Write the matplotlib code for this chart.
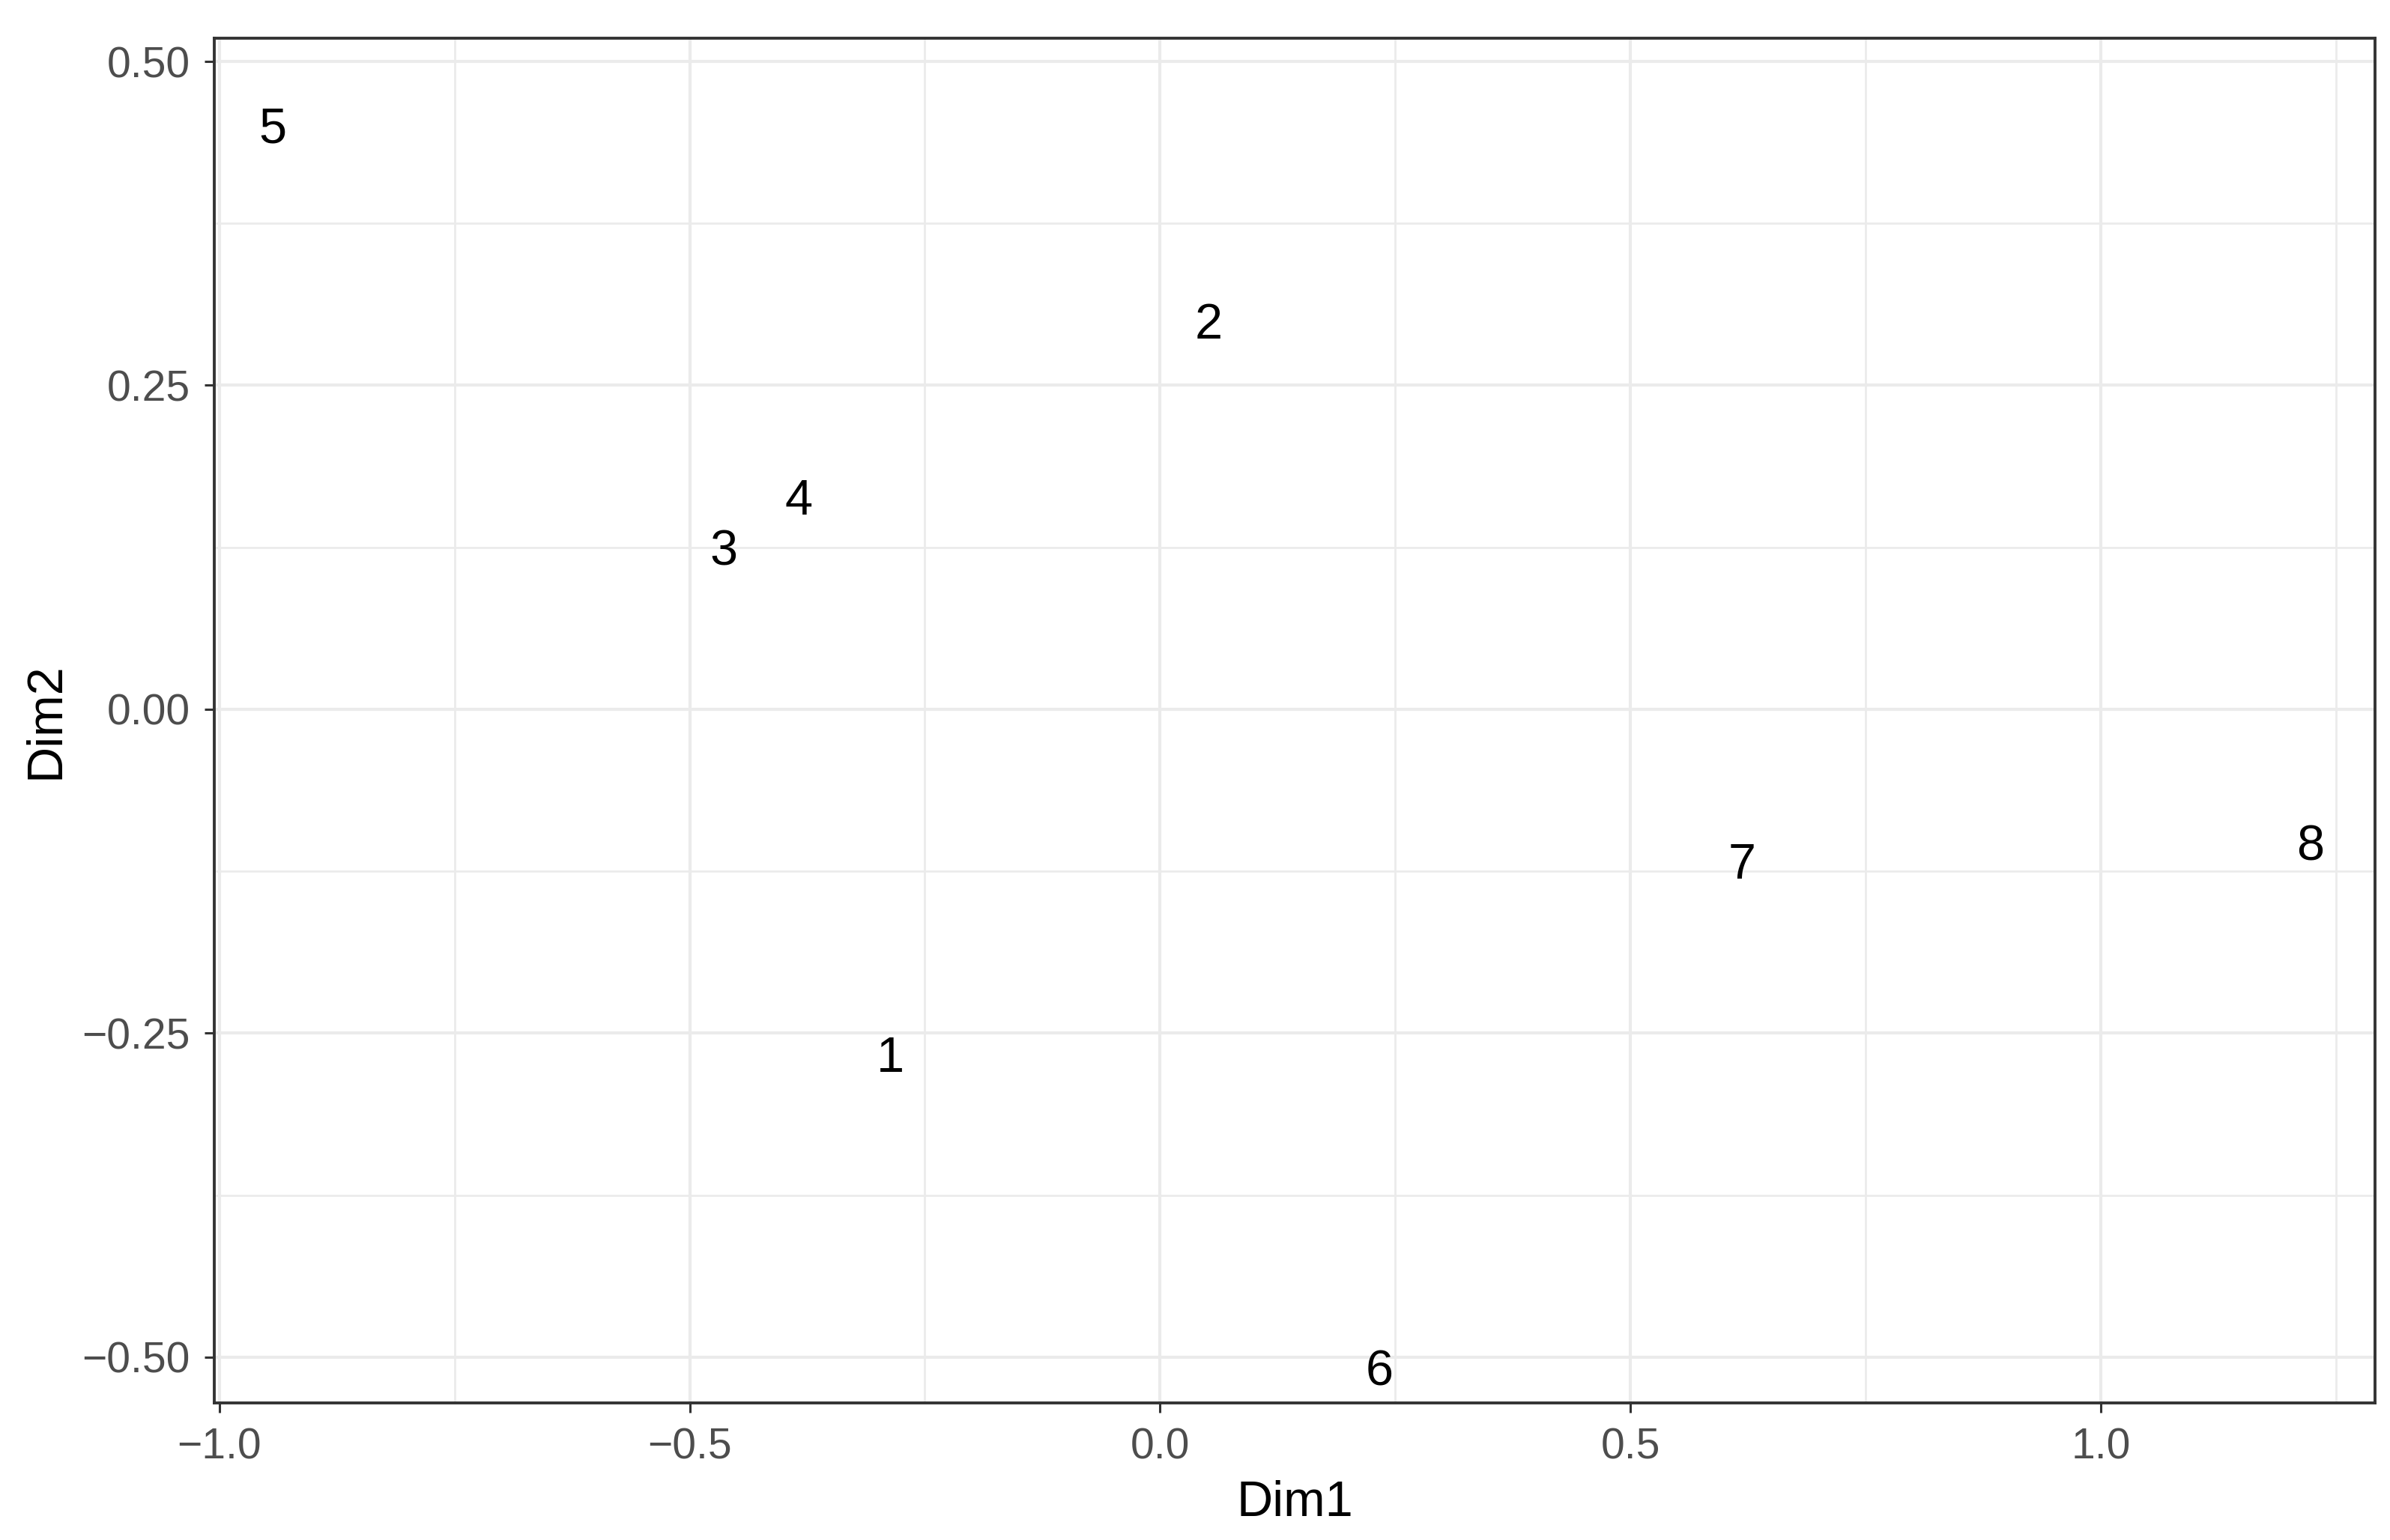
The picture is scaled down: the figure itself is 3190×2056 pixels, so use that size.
import matplotlib.pyplot as plt
from matplotlib.ticker import MultipleLocator

# MDS coordinates
labels = ['1', '2', '3', '4', '5', '6', '7', '8']
dim1 = [-0.287, 0.052, -0.464, -0.384, -0.943, 0.233, 0.619, 1.223]
dim2 = [-0.270, 0.296, 0.121, 0.160, 0.447, -0.512, -0.121, -0.107]

x_ticks = [-1.0, -0.5, 0.0, 0.5, 1.0]
y_ticks = [-0.50, -0.25, 0.00, 0.25, 0.50]

plt.rcParams['font.family'] = ['Liberation Sans', 'DejaVu Sans']
plt.rcParams['axes.unicode_minus'] = True

dpi = 200
fig = plt.figure(figsize=(3190 / dpi, 2056 / dpi), dpi=dpi)
ax = fig.add_axes([0.0898, 0.089, 0.9039, 0.886])

for lab, x, y in zip(labels, dim1, dim2):
    ax.text(x, y, lab, ha='center', va='center', fontsize=24, color='black')

ax.set_xlim(-1.005, 1.2915)
ax.set_ylim(-0.5354, 0.5177)
ax.set_xticks(x_ticks)
ax.set_yticks(y_ticks)
ax.set_xticklabels([f'{v:.1f}'.replace('-', '\u2212') for v in x_ticks])
ax.set_yticklabels([f'{v:.2f}'.replace('-', '\u2212') for v in y_ticks])
ax.xaxis.set_minor_locator(MultipleLocator(0.25))
ax.yaxis.set_minor_locator(MultipleLocator(0.125))

# theme_bw look
ax.set_axisbelow(True)
ax.grid(which='major', color='#EBEBEB', linewidth=1.5)
ax.grid(which='minor', color='#EBEBEB', linewidth=1.0)
for spine in ax.spines.values():
    spine.set_color('#333333')
    spine.set_linewidth(1.4)
ax.tick_params(which='major', length=4.7, width=1.1, color='#333333',
               labelsize=20.5, labelcolor='#4D4D4D', pad=7)
ax.tick_params(which='minor', length=0)

ax.set_xlabel('Dim1', fontsize=24, labelpad=6)
ax.set_ylabel('Dim2', fontsize=24, labelpad=6)

fig.savefig('out.png', dpi=dpi, facecolor='white')
